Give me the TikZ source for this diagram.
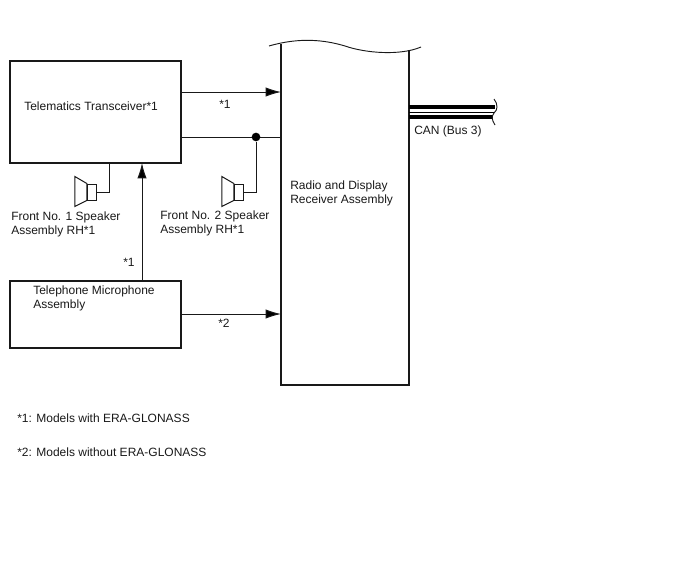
\documentclass[tikz,border=0pt]{standalone}
\usepackage{fontspec}
\setmainfont{Liberation Sans}
\usetikzlibrary{arrows.meta, positioning, calc}
\definecolor{ink}{RGB}{25,25,25}

\tikzset{
  unitbox/.style={draw=ink, line width=1.05pt, fill=white, minimum width=#1, inner sep=0pt},
  wire/.style={draw=ink, line width=0.75pt},
  sig/.style={wire, -{Latex[length=11.5pt, width=7pt, fill=black]}},
  lbl/.style={font=\fontsize{9pt}{10.5pt}\selectfont, text=ink, anchor=west, inner sep=0pt, align=left},
  spkbody/.style={draw=ink, line width=0.75pt, fill=white, minimum width=7pt, minimum height=12pt, inner sep=0pt},
  spkcone/.style={draw=ink, line width=0.75pt, fill=white},
}

\begin{document}
\begin{tikzpicture}[x=0.75pt, y=-0.75pt]
  \useasboundingbox (0,0) rectangle (688,560);

  % boxes
  \node[unitbox=128pt, minimum height=76.5pt] (tele) at (95.5,112) {};
  \node[unitbox=128pt, minimum height=50pt] (mic) at (95.5,314.5) {};
  \draw[ink, line width=1.05pt] (281,44) -- (281,385) -- (409,385) -- (409,50);
  \draw[ink, line width=0.7pt] (269,46) .. controls (300,37) and (325,40) .. (345,46)
    .. controls (365,53) and (400,56) .. (421,47);
  \coordinate (radioA) at (281,92);
  \coordinate (radioB) at (281,137);
  \coordinate (radioC) at (281,314);
  \coordinate (teleA) at (181,92);
  \coordinate (teleB) at (181,137);
  \coordinate (teleC) at (142,163);
  \coordinate (teleD) at (109,163);
  \coordinate (micA) at (142,281);
  \coordinate (micB) at (181,314);

  % signal lines
  \draw[sig] (teleA) -- (radioA);
  \draw[wire] (teleB) -- (radioB);
  \draw[sig] (micA) -- (teleC);
  \draw[sig] (micB) -- (radioC);

  % speakers
  \node[spkbody] (spkA) at (92,192) {};
  \node[spkbody] (spkB) at (239,192) {};
  \foreach \s in {spkA,spkB} {
    \draw[spkcone] (\s.north west) -- ++(-12,-7) -- ++(0,30) -- (\s.south west) -- cycle;
  }
  \node[circle, fill=black, inner sep=0pt, minimum size=6.5pt] (joint) at (256,137) {};
  \draw[wire] (spkA.east) -| (teleD);
  \draw[wire] (spkB.east) -| (joint);

  % CAN bus
  \coordinate (canA) at (409,107);
  \coordinate (canB) at (409,112);
  \coordinate (canC) at (409,117);
  \coordinate (canAe) at (495,107);
  \coordinate (canBe) at (495,112);
  \coordinate (canCe) at (493,117);
  \draw[black, line width=2.3pt] (canA) -- (canAe);
  \draw[black, line width=0.75pt] (canB) -- (canBe);
  \draw[black, line width=2.3pt] (canC) -- (canCe);
  \draw[ink, line width=0.7pt] (494,99) .. controls (498,104) and (498,110) .. (494,113)
    .. controls (491,117) and (492,120) .. (495,125);

  % labels
  \node[lbl] (teleTxt) at (24,106) {Telematics Transceiver*1};
  \node[lbl] (micTxt) at (33,298) {Telephone Microphone\\Assembly};
  \node[lbl] (radioTxt) at (290,193) {Radio and Display\\Receiver Assembly};
  \node[lbl] (canTxt) at (414,131) {CAN (Bus 3)};
  \node[lbl] (spkAtxt) at (11,224) {Front No. 1 Speaker\\Assembly RH*1};
  \node[lbl] (spkBtxt) at (160,223) {Front No. 2 Speaker\\Assembly RH*1};
  \node[lbl] (noteA) at (219,104) {*1};
  \node[lbl] (noteB) at (123,262) {*1};
  \node[lbl] (noteC) at (218,323) {*2};
  \node[lbl] (footA) at (17,418) {*1: Models with ERA-GLONASS};
  \node[lbl] (footB) at (17,452) {*2: Models without ERA-GLONASS};
\end{tikzpicture}
\end{document}
